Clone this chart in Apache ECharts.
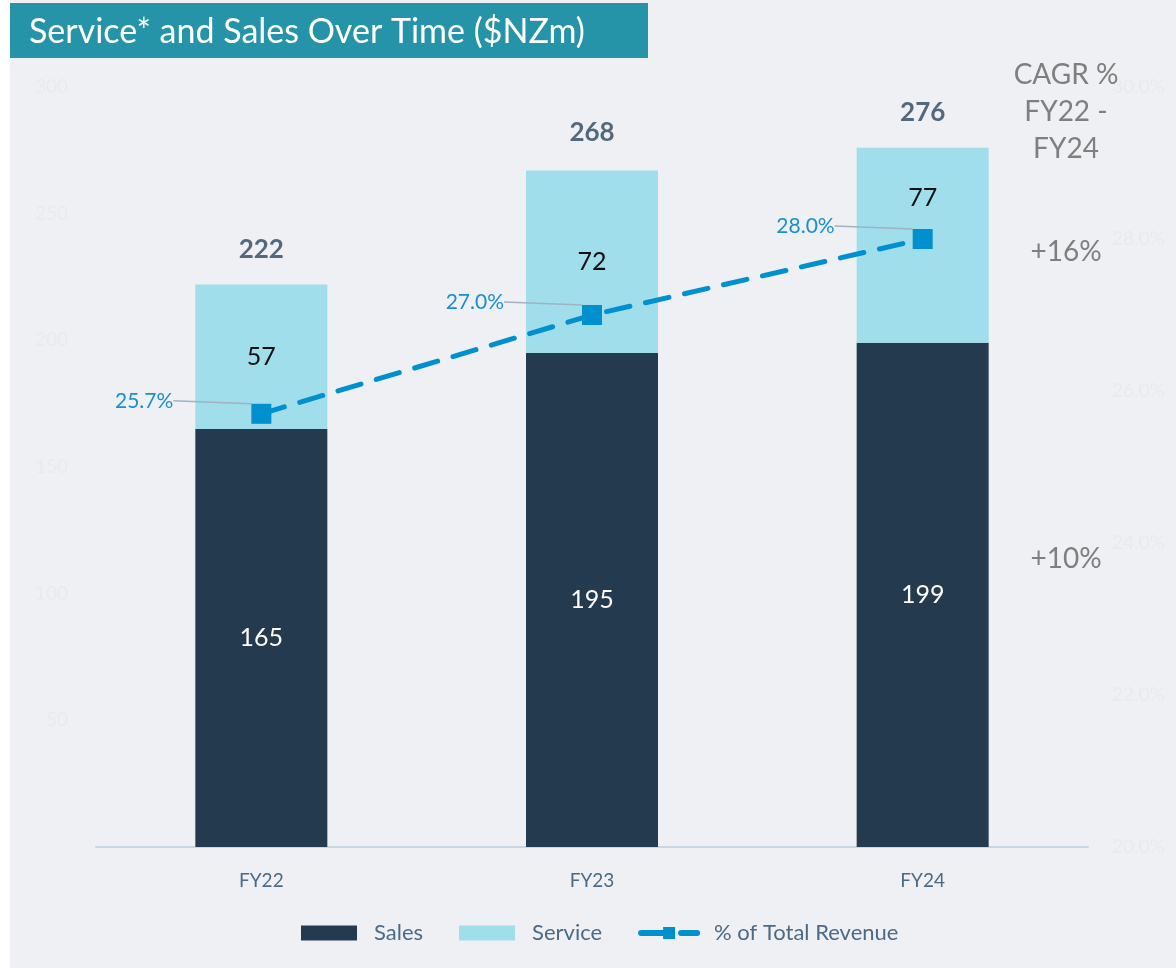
<!DOCTYPE html>
<html>
<head>
<meta charset="utf-8">
<script src="https://cdn.jsdelivr.net/npm/echarts@6/dist/echarts.min.js"></script>
<style>
  html, body { margin: 0; padding: 0; background: #ffffff; }
  #chart { width: 1176px; height: 968px; }
</style>
</head>
<body>
<div id="chart"></div>
<script>
const categories = ['FY22', 'FY23', 'FY24']
const salesValues = [165, 195, 199]
const serviceValues = [57, 72, 77]
const totalValues = [222, 268, 276]
const serviceShare = [25.7, 27.0, 28.0]
const cagrTitle = ['CAGR %', 'FY22 -', 'FY24']
const cagrService = '+16%'
const cagrSales = '+10%'

const font = 'Lato, "Open Sans", sans-serif'
const chart = echarts.init(document.getElementById('chart'))

// the last service label sits higher in the original slide
const serviceData = serviceValues.map((v, i) =>
  i === serviceValues.length - 1 ? { value: v, label: { offset: [0, -47] } } : v
)

chart.setOption({
  backgroundColor: '#ffffff',
  textStyle: { fontFamily: font },
  animation: false,
  graphic: [
    { type: 'rect', z: -10, shape: { x: 10, y: 0, width: 1166, height: 968 }, style: { fill: '#eef0f4' } },
    { type: 'rect', z: 10, shape: { x: 10, y: 3, width: 638, height: 55 }, style: { fill: '#2593a8' } },
    {
      type: 'text', z: 11, x: 29, y: 32,
      style: { text: 'Service* and Sales Over Time ($NZm)', fill: '#ffffff', font: '34px ' + font, verticalAlign: 'middle' }
    },
    {
      type: 'text', z: 11, x: 1066, y: 112,
      style: { text: cagrTitle.join('\n'), fill: '#7f7f7f', font: '28px ' + font, align: 'center', verticalAlign: 'middle', lineHeight: 37 }
    },
    {
      type: 'text', z: 11, x: 1066, y: 252,
      style: { text: cagrService, fill: '#7f7f7f', font: '28px ' + font, align: 'center', verticalAlign: 'middle' }
    },
    {
      type: 'text', z: 11, x: 1066, y: 559,
      style: { text: cagrSales, fill: '#7f7f7f', font: '28px ' + font, align: 'center', verticalAlign: 'middle' }
    }
  ],
  grid: { left: 96, right: 88, top: 87, bottom: 121 },
  legend: {
    bottom: 19,
    left: 296,
    itemWidth: 56,
    itemHeight: 15,
    itemGap: 36,
    textStyle: { color: '#4a6a85', fontSize: 22, fontFamily: font, padding: [0, 0, 0, 12] },
    data: [
      { name: 'Sales', icon: 'rect' },
      { name: 'Service', icon: 'rect' },
      { name: '% of Total Revenue', itemStyle: { color: '#0090d0' }, lineStyle: { width: 6, color: '#0090d0' } }
    ]
  },
  xAxis: {
    type: 'category',
    data: categories,
    axisLine: { lineStyle: { color: '#c8d8e2', width: 2 } },
    axisTick: { show: false },
    axisLabel: { color: '#4a6a85', fontSize: 19, margin: 24 }
  },
  yAxis: [
    {
      type: 'value',
      min: 0,
      max: 300,
      interval: 50,
      splitLine: { show: false },
      axisLabel: { color: '#e8eaee', fontSize: 19, margin: 28, formatter: v => (v === 0 ? '' : v) }
    },
    {
      type: 'value',
      min: 20,
      max: 30,
      interval: 2,
      splitLine: { show: false },
      axisLabel: { color: '#e8eaee', fontSize: 19, margin: 24, formatter: v => v.toFixed(1) + '%' }
    }
  ],
  series: [
    {
      name: 'Sales',
      type: 'bar',
      stack: 'rev',
      barWidth: 132,
      data: salesValues,
      itemStyle: { color: '#243a4f' },
      label: { show: true, position: 'inside', color: '#ffffff', fontSize: 25 }
    },
    {
      name: 'Service',
      type: 'bar',
      stack: 'rev',
      data: serviceData,
      itemStyle: { color: '#9fdeea' },
      label: { show: true, position: 'inside', color: '#111111', fontSize: 25 }
    },
    {
      name: 'Total',
      type: 'scatter',
      data: totalValues,
      symbolSize: 0,
      silent: true,
      label: { show: true, position: 'top', distance: 22, color: '#2c475c', fontSize: 26, fontWeight: 'bold' }
    },
    {
      name: '% of Total Revenue',
      type: 'line',
      yAxisIndex: 1,
      z: 5,
      data: serviceShare,
      symbol: 'rect',
      symbolSize: 20,
      itemStyle: { color: '#0090d0' },
      lineStyle: { color: '#0090d0', width: 5, type: [24, 16], cap: 'round' },
      label: {
        show: true,
        color: '#1a8fcf',
        fontSize: 21,
        formatter: p => p.value.toFixed(1) + '%'
      },
      labelLine: { show: true, lineStyle: { color: '#a3b1c2', width: 1.5 } },
      labelLayout: params => ({
        x: params.rect.x + params.rect.width / 2 - 88,
        y: params.rect.y + params.rect.height / 2 - 13,
        align: 'right',
        verticalAlign: 'middle'
      })
    }
  ]
})
</script>
</body>
</html>
